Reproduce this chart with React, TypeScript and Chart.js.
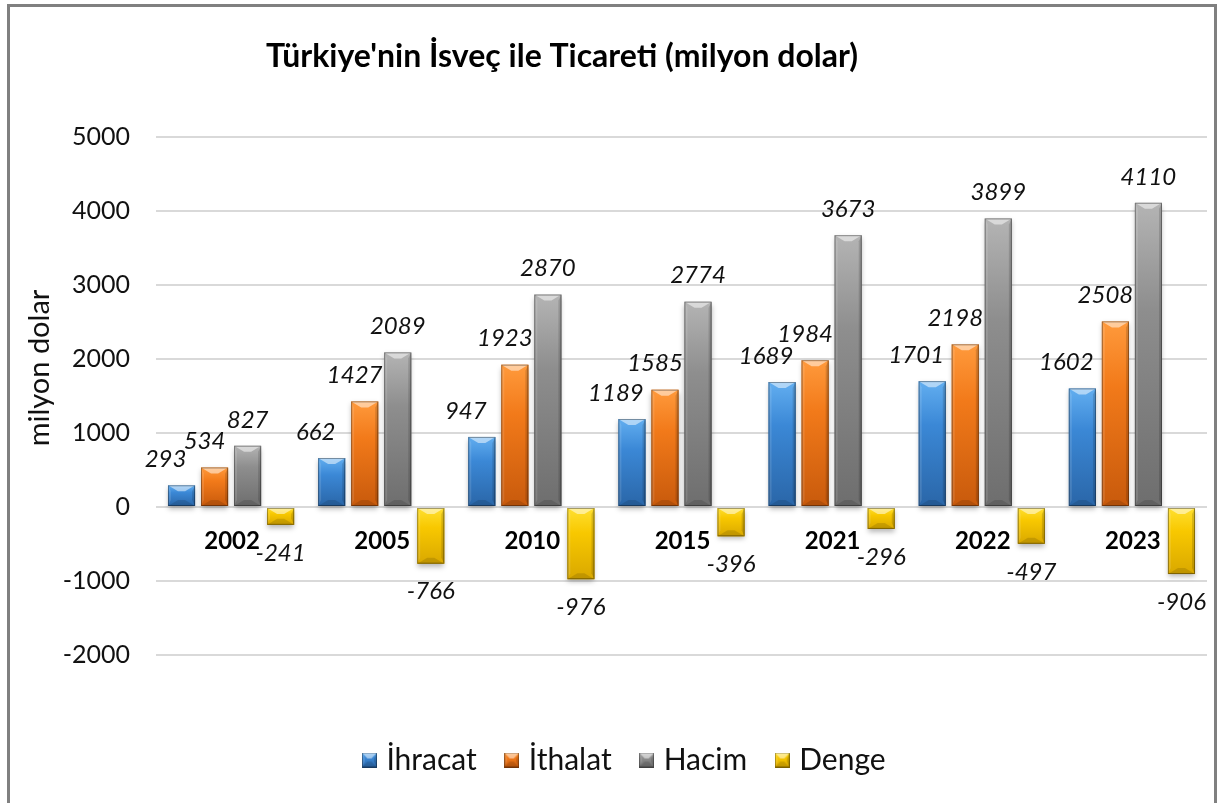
import React, { useEffect, useRef } from 'react';
import { Chart, registerables } from 'chart.js';

Chart.register(...registerables);

const categories = ['2002', '2005', '2010', '2015', '2021', '2022', '2023'];
const ihracat = [293, 662, 947, 1189, 1689, 1701, 1602];
const ithalat = [534, 1427, 1923, 1585, 1984, 2198, 2508];
const hacim = [827, 2089, 2870, 2774, 3673, 3899, 4110];
const denge = [-241, -766, -976, -396, -296, -497, -906];
const seriesNames = ['İhracat', 'İthalat', 'Hacim', 'Denge'];
const seriesData = [ihracat, ithalat, hacim, denge];
const seriesColors = ['#3b88d6', '#f27a1a', '#8e8e8e', '#f8c800'];
const seriesLight = ['#62aef0', '#ff9a3c', '#b4b4b4', '#ffe030'];
const seriesDark = ['#2a66a8', '#c85a0c', '#6e6e6e', '#d9a800'];
const labelShift = [-16, -10, 0, 0];
const yMin = -2000;
const yMax = 5000;
const yStep = 1000;
const titleText = "Türkiye'nin İsveç ile Ticareti (milyon dolar)";
const yAxisTitle = 'milyon dolar';

const FONT = 'Lato, "Open Sans", sans-serif';

function bevelPath(ctx: CanvasRenderingContext2D, left: number, top: number, w: number, h: number, i: number, withShadow: boolean) {
  const right = left + w;
  const bottom = top + h;
  ctx.save();
  if (withShadow) {
    ctx.shadowColor = 'rgba(0,0,0,0.28)';
    ctx.shadowBlur = 5;
    ctx.shadowOffsetY = 3;
  }
  const g = ctx.createLinearGradient(0, top, 0, bottom);
  g.addColorStop(0, seriesLight[i]);
  g.addColorStop(0.35, seriesColors[i]);
  g.addColorStop(1, seriesDark[i]);
  ctx.fillStyle = g;
  ctx.fillRect(left, top, w, h);
  ctx.restore();
  const b = Math.min(6, w / 2 - 1, h / 2);
  const bx = Math.min(w / 2 - 2, 10);
  ctx.save();
  ctx.fillStyle = 'rgba(255,255,255,0.12)';
  ctx.beginPath();
  ctx.moveTo(left, top);
  ctx.lineTo(left + 3, top + b);
  ctx.lineTo(left + 3, bottom - b);
  ctx.lineTo(left, bottom);
  ctx.closePath();
  ctx.fill();
  ctx.fillStyle = 'rgba(0,0,0,0.14)';
  ctx.beginPath();
  ctx.moveTo(right, top);
  ctx.lineTo(right - 3, top + b);
  ctx.lineTo(right - 3, bottom - b);
  ctx.lineTo(right, bottom);
  ctx.closePath();
  ctx.fill();
  ctx.fillStyle = 'rgba(255,255,255,0.5)';
  ctx.beginPath();
  ctx.moveTo(left, top);
  ctx.lineTo(right, top);
  ctx.lineTo(right - bx, top + b);
  ctx.lineTo(left + bx, top + b);
  ctx.closePath();
  ctx.fill();
  ctx.fillStyle = 'rgba(0,0,0,0.12)';
  ctx.beginPath();
  ctx.moveTo(left, bottom);
  ctx.lineTo(right, bottom);
  ctx.lineTo(right - bx, bottom - b);
  ctx.lineTo(left + bx, bottom - b);
  ctx.closePath();
  ctx.fill();
  ctx.strokeStyle = 'rgba(0,0,0,0.35)';
  ctx.lineWidth = 1;
  ctx.strokeRect(left + 0.5, top + 0.5, w - 1, h - 1);
  ctx.restore();
}

function makeIcon(i: number) {
  const c = document.createElement('canvas');
  c.width = 15;
  c.height = 15;
  const ctx = c.getContext('2d')!;
  bevelPath(ctx, 0, 0, 15, 15, i, false);
  return c;
}

const bevelPlugin = {
  id: 'bevelBars',
  afterDatasetsDraw(chart: any) {
    const ctx = chart.ctx as CanvasRenderingContext2D;
    chart.data.datasets.forEach((_: any, i: number) => {
      const meta = chart.getDatasetMeta(i);
      meta.data.forEach((el: any) => {
        const { x, y, base, width } = el.getProps(['x', 'y', 'base', 'width'], true);
        const top = Math.min(y, base);
        const h = Math.abs(base - y);
        bevelPath(ctx, x - width / 2, top, width, h, i, true);
      });
    });
  },
};

const textPlugin = {
  id: 'texts',
  afterDraw(chart: any) {
    const ctx = chart.ctx as CanvasRenderingContext2D;
    const xs = chart.scales.x;
    const ys = chart.scales.y;
    ctx.save();
    ctx.fillStyle = '#000';
    ctx.font = `bold 32px ${FONT}`;
    ctx.textAlign = 'center';
    ctx.textBaseline = 'middle';
    ctx.fillText(titleText, 552, 50);
    ctx.save();
    ctx.translate(30, 361);
    ctx.rotate(-Math.PI / 2);
    ctx.font = `29px ${FONT}`;
    ctx.fillStyle = '#111';
    ctx.fillText(yAxisTitle, 0, 0);
    ctx.restore();
    const zero = ys.getPixelForValue(0);
    ctx.font = `bold 24px ${FONT}`;
    ctx.fillStyle = '#000';
    categories.forEach((c, i) => {
      ctx.fillText(c, xs.getPixelForValue(i) + 1, zero + 34);
    });
    ctx.font = `italic 24px ${FONT}`;
    ctx.fillStyle = '#111';
    chart.data.datasets.forEach((ds: any, i: number) => {
      const meta = chart.getDatasetMeta(i);
      meta.data.forEach((el: any, j: number) => {
        const v = ds.data[j];
        const { x, y } = el.getProps(['x', 'y'], true);
        if (v >= 0) {
          ctx.fillText(String(v), x + labelShift[i], y - 26);
        } else {
          ctx.fillText(String(v), x, y + 28);
        }
      });
    });
    ctx.restore();
  },
};

export default function App() {
  const ref = useRef<HTMLCanvasElement | null>(null);
  useEffect(() => {
    if (!ref.current) return;
    const icons = seriesNames.map((_, i) => makeIcon(i));
    const chart = new Chart(ref.current, {
      type: 'bar',
      data: {
        labels: categories,
        datasets: seriesNames.map((n, i) => ({
          label: n,
          data: seriesData[i],
          backgroundColor: seriesColors[i],
          borderWidth: 0,
          categoryPercentage: 0.88,
          barPercentage: 0.82,
        })),
      },
      options: {
        animation: false,
        responsive: false,
        maintainAspectRatio: false,
        layout: { padding: { top: 130, left: 36, right: 7, bottom: 18 } },
        plugins: {
          tooltip: { enabled: false },
          title: { display: false },
          legend: {
            display: true,
            position: 'bottom',
            labels: {
              usePointStyle: true,
              boxWidth: 4,
              boxHeight: 15,
              padding: 33,
              color: '#111',
              font: { family: FONT, size: 30 },
              generateLabels: (ch: any) =>
                ch.data.datasets.map((ds: any, i: number) => ({
                  text: ds.label,
                  fillStyle: seriesColors[i],
                  strokeStyle: seriesColors[i],
                  lineWidth: 0,
                  pointStyle: icons[i],
                  hidden: false,
                  datasetIndex: i,
                  fontColor: '#111',
                })),
            },
          },
        },
        scales: {
          x: {
            type: 'category',
            grid: { display: false },
            border: { display: false },
            ticks: { display: false },
            afterFit: (s: any) => {
              s.height = 57;
            },
          },
          y: {
            min: yMin,
            max: yMax,
            ticks: {
              stepSize: yStep,
              padding: 26,
              color: '#111',
              font: { family: FONT, size: 25 },
              callback: (v: any) => String(v),
            },
            grid: { color: '#d9d9d9', lineWidth: 2, drawTicks: false },
            border: { display: false },
            afterFit: (s: any) => {
              s.width = 110;
            },
          },
        },
      },
      plugins: [bevelPlugin, textPlugin],
    } as any);
    return () => chart.destroy();
  }, []);
  return (
    <div
      style={{
        position: 'absolute',
        left: 7,
        top: 4,
        width: 1210,
        height: 799,
        border: '3px solid #808080',
        borderBottom: 'none',
        boxSizing: 'border-box',
        background: '#fff',
      }}
    >
      <canvas ref={ref} width={1204} height={796} style={{ display: 'block', width: 1204, height: 796 }} />
    </div>
  );
}
